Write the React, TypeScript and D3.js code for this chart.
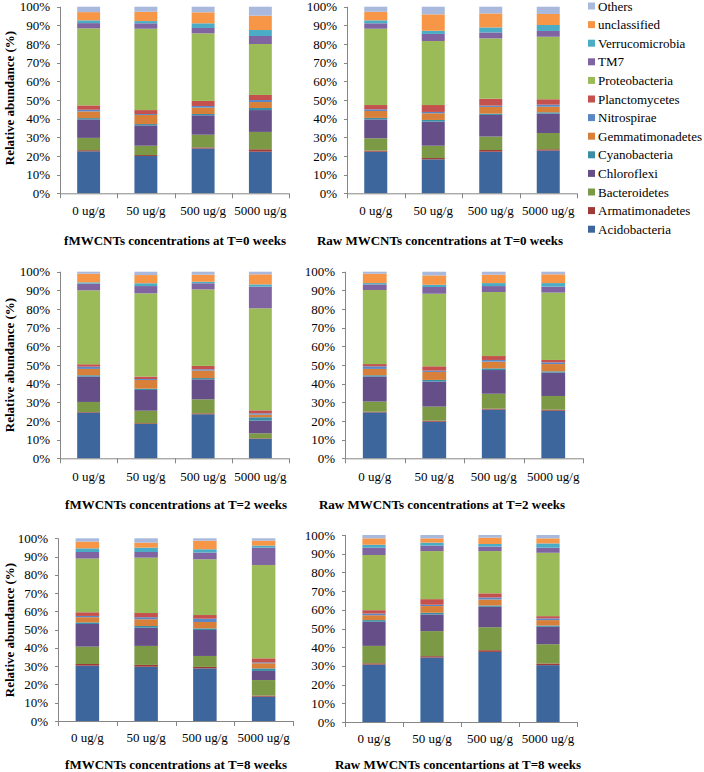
import React from "react";
import * as d3 from "d3";

const categories = ["0 ug/g", "50 ug/g", "500 ug/g", "5000 ug/g"];
const phyla = [
  "Acidobacteria", "Armatimonadetes", "Bacteroidetes", "Chloroflexi", "Cyanobacteria",
  "Gemmatimonadetes", "Nitrospirae", "Planctomycetes", "Proteobacteria", "TM7",
  "Verrucomicrobia", "unclassified", "Others",
];
const phylaColors = [
  "#3D679C", "#9E3B38", "#7C9A45", "#664E89", "#3A8EA5",
  "#D8803A", "#5B87C4", "#C4514E", "#9BBB59", "#8064A2",
  "#4BACC6", "#F79646", "#A8B9DD",
];
const yTicks = [0, 10, 20, 30, 40, 50, 60, 70, 80, 90, 100];

// values per concentration, in phyla order (%)
const fT0 = [
  [22.5, 0.6, 6.6, 9.9, 0.7, 3.6, 0.9, 2.3, 41.3, 2.8, 1.5, 4.4, 2.9],
  [20.0, 0.5, 5.0, 10.9, 0.7, 4.9, 0.5, 2.1, 43.6, 2.9, 1.2, 5.0, 2.7],
  [24.0, 0.6, 6.8, 10.4, 0.7, 3.4, 0.9, 2.7, 36.2, 2.9, 2.5, 5.9, 3.0],
  [22.3, 1.3, 9.3, 11.7, 1.1, 3.2, 1.1, 2.7, 27.3, 4.3, 3.2, 7.7, 4.8],
];
const rawT0 = [
  [22.3, 0.6, 6.6, 10.1, 0.8, 3.7, 0.9, 2.3, 40.9, 2.9, 1.6, 4.6, 2.7],
  [18.2, 0.7, 6.6, 12.9, 0.9, 3.6, 0.7, 3.7, 34.3, 3.8, 1.7, 8.8, 4.1],
  [22.3, 0.9, 7.2, 11.6, 0.7, 3.6, 0.7, 3.7, 32.3, 3.2, 2.7, 7.5, 3.6],
  [22.9, 0.7, 8.7, 10.4, 0.7, 3.0, 1.1, 2.9, 33.5, 3.1, 3.2, 5.9, 3.9],
];
const fT2 = [
  [24.5, 0.3, 5.4, 13.6, 0.7, 3.4, 1.2, 1.3, 39.6, 3.6, 0.7, 4.6, 1.1],
  [18.4, 0.4, 6.7, 11.1, 0.7, 4.7, 0.5, 1.3, 44.6, 3.9, 1.5, 4.4, 1.8],
  [23.6, 0.5, 7.5, 10.7, 0.7, 4.0, 0.7, 1.8, 41.0, 3.3, 0.8, 3.8, 1.6],
  [10.4, 0.3, 2.7, 6.8, 1.8, 1.4, 0.7, 1.6, 54.7, 11.6, 1.2, 5.4, 1.4],
];
const rawT2 = [
  [24.6, 0.4, 5.4, 13.4, 0.7, 3.4, 1.4, 1.2, 39.7, 3.0, 0.7, 5.0, 1.1],
  [19.6, 0.6, 7.5, 13.4, 0.9, 4.3, 0.7, 2.3, 38.9, 3.6, 1.2, 5.0, 2.0],
  [26.1, 0.5, 8.0, 12.7, 0.9, 3.6, 0.9, 2.1, 34.3, 3.2, 1.6, 4.5, 1.6],
  [25.5, 0.6, 7.3, 12.5, 0.7, 3.9, 0.9, 1.3, 36.1, 3.2, 1.9, 4.7, 1.4],
];
const fT8 = [
  [30.3, 0.9, 9.5, 12.4, 0.9, 2.8, 0.7, 2.0, 29.4, 3.6, 2.0, 3.7, 1.8],
  [29.7, 1.0, 10.4, 10.0, 0.9, 3.7, 1.1, 2.3, 30.3, 3.1, 2.4, 2.7, 2.4],
  [28.8, 0.8, 6.0, 14.2, 0.9, 3.5, 1.8, 2.0, 30.5, 3.7, 1.8, 4.7, 1.3],
  [13.3, 0.6, 8.5, 5.0, 1.4, 2.8, 0.5, 2.2, 51.1, 9.5, 1.1, 2.7, 1.3],
];
const rawT8 = [
  [30.7, 0.7, 9.3, 12.9, 0.9, 2.6, 0.9, 1.8, 29.5, 3.9, 1.6, 3.4, 1.8],
  [34.5, 0.7, 13.4, 8.9, 0.9, 3.6, 0.7, 3.0, 25.7, 2.9, 1.6, 2.3, 1.8],
  [37.5, 0.9, 12.3, 10.9, 0.7, 3.2, 1.1, 2.2, 22.6, 2.4, 1.4, 3.4, 1.4],
  [30.4, 0.9, 10.3, 9.3, 0.7, 2.9, 0.9, 1.2, 33.9, 2.7, 2.3, 2.7, 1.8],
];

const panelTitles = [
  "fMWCNTs concentrations at T=0 weeks",
  "Raw MWCNTs concentrations at T=0 weeks",
  "fMWCNTs concentrations at T=2 weeks",
  "Raw MWCNTs concentrations at T=2 weeks",
  "fMWCNTs concentrations at T=8 weeks",
  "Raw MWCNTs concentartions at T=8 weeks",
];

const FONT = "'Liberation Serif', 'Times New Roman', serif";
const AXIS = "#868686";

type Layout = { x0: number; x1: number; yT: number; yB: number; labY: number; titleX: number; titleY: number };

const layouts: Layout[] = [
  { x0: 60, x1: 289, yT: 6.7, yB: 193.3, labY: 215, titleX: 175, titleY: 244.5 },
  { x0: 347, x1: 577, yT: 6.7, yB: 193.3, labY: 215, titleX: 440, titleY: 244.5 },
  { x0: 60, x1: 289, yT: 271.7, yB: 458.3, labY: 481, titleX: 176, titleY: 508.5 },
  { x0: 345, x1: 583, yT: 271.7, yB: 458.3, labY: 481, titleX: 442, titleY: 508.5 },
  { x0: 58, x1: 293, yT: 538.3, yB: 721, labY: 742, titleX: 176, titleY: 769 },
  { x0: 345, x1: 577, yT: 535, yB: 722, labY: 743, titleX: 458, titleY: 769 },
];

const panelData = [fT0, rawT0, fT2, rawT2, fT8, rawT8];
const yTitleCenters = [98, 365, 630];

function Panel({ data, lay, title }: { data: number[][]; lay: Layout; title: string }) {
  const x = d3.scaleBand<string>().domain(categories).range([lay.x0, lay.x1]).paddingInner(0.6).paddingOuter(0.3);
  const y = d3.scaleLinear().domain([0, 100]).range([lay.yB, lay.yT]);
  const rows = data.map((vals, i) => {
    const o: Record<string, number | string> = { cat: categories[i] };
    phyla.forEach((p, j) => (o[p] = vals[j]));
    return o;
  });
  const series = d3.stack<any>().keys(phyla)(rows as any);
  const bandStep = (lay.x1 - lay.x0) / categories.length;
  const boundaries = d3.range(categories.length + 1).map((i) => lay.x0 + i * bandStep);
  return (
    <g>
      {series.map((s, si) => (
        <g key={si} fill={phylaColors[si]}>
          {s.map((d, di) => (
            <rect
              key={di}
              x={x(categories[di])!}
              width={x.bandwidth()}
              y={y(d[1])}
              height={Math.max(0, y(d[0]) - y(d[1]))}
            />
          ))}
        </g>
      ))}
      <line x1={lay.x0 + 0.5} x2={lay.x0 + 0.5} y1={lay.yT} y2={lay.yB} stroke={AXIS} />
      <line x1={lay.x0} x2={lay.x1} y1={lay.yB + 0.5} y2={lay.yB + 0.5} stroke={AXIS} />
      {yTicks.map((t) => (
        <g key={t}>
          <line x1={lay.x0 - 3} x2={lay.x0} y1={Math.round(y(t)) + 0.5} y2={Math.round(y(t)) + 0.5} stroke={AXIS} />
          <text x={lay.x0 - 10} y={y(t)} dy="0.35em" textAnchor="end" fontSize={13} fontFamily={FONT} fill="#000">
            {t + "%"}
          </text>
        </g>
      ))}
      {boundaries.map((b, i) => (
        <line key={i} x1={Math.round(b) + 0.5} x2={Math.round(b) + 0.5} y1={lay.yB} y2={lay.yB + 5} stroke={AXIS} />
      ))}
      {categories.map((c) => (
        <text key={c} x={x(c)! + x.bandwidth() / 2} y={lay.labY} textAnchor="middle" fontSize={13} fontFamily={FONT} fill="#000">
          {c}
        </text>
      ))}
      <text x={lay.titleX} y={lay.titleY} textAnchor="middle" fontSize={13} fontWeight="bold" fontFamily={FONT} fill="#000">
        {title}
      </text>
    </g>
  );
}

export default function App() {
  const legendY0 = 6;
  const legendStep = 18.6;
  const legendOrder = phyla.map((p, i) => i).reverse();
  return (
    <svg width={704} height={772} style={{ position: "absolute", left: 0, top: 0, background: "#fff" }}>
      <rect width={704} height={772} fill="#fff" />
      {panelData.map((d, i) => (
        <Panel key={i} data={d} lay={layouts[i]} title={panelTitles[i]} />
      ))}
      {yTitleCenters.map((cy, i) => (
        <text
          key={i}
          transform={`translate(14,${cy}) rotate(-90)`}
          textAnchor="middle"
          fontSize={13}
          fontWeight="bold"
          fontFamily={FONT}
          fill="#000"
        >
          Relative abundance (%)
        </text>
      ))}
      {legendOrder.map((pi, k) => {
        const cy = legendY0 + k * legendStep;
        return (
          <g key={pi}>
            <rect x={588} y={cy - 3.5} width={7} height={7} fill={phylaColors[pi]} />
            <text x={598} y={cy} dy="0.35em" fontSize={13} fontFamily={FONT} fill="#000">
              {phyla[pi]}
            </text>
          </g>
        );
      })}
    </svg>
  );
}
